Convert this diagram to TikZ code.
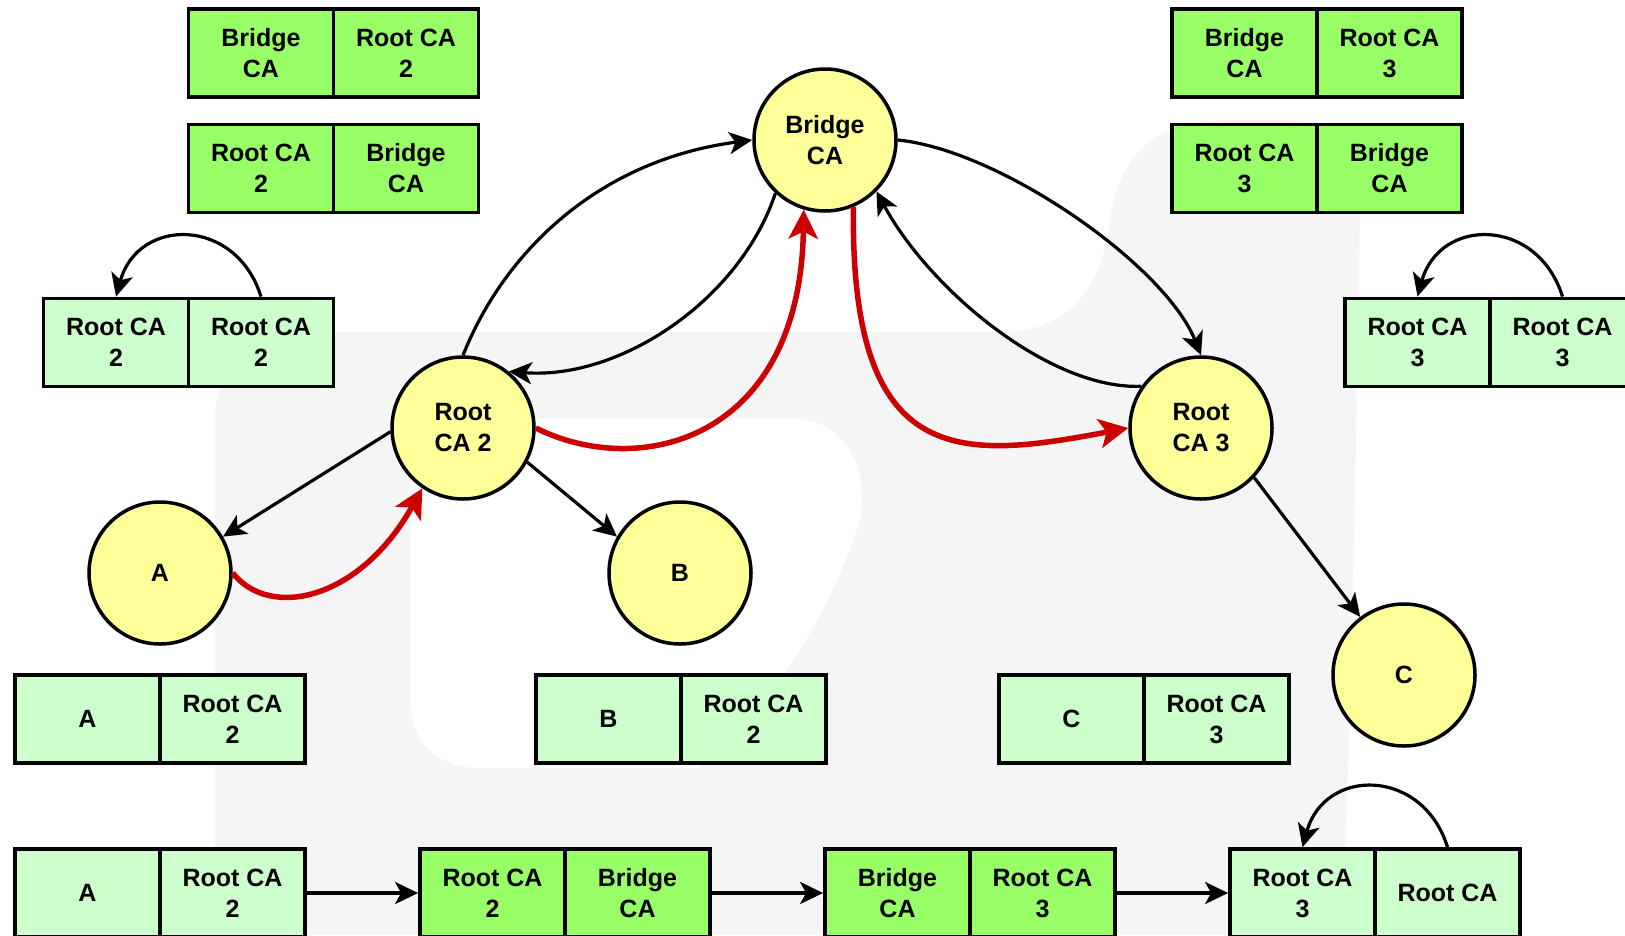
\documentclass[tikz,border=0pt]{standalone}
\usepackage{fontspec}
\setmainfont{Liberation Sans}
\usetikzlibrary{arrows.meta}
\definecolor{certdark}{HTML}{99FF66}
\definecolor{certlight}{HTML}{CCFFCC}
\definecolor{nodeyellow}{HTML}{FFFF99}
\definecolor{trustred}{HTML}{CC0000}
\definecolor{logogray}{HTML}{F5F5F5}
\tikzset{
  cell/.style={draw, line width=3.8pt, minimum width=145pt, minimum height=88pt,
    inner sep=0pt, align=center, font=\fontsize{25}{31}\selectfont\bfseries},
  darkcell/.style={cell, fill=certdark},
  lightcell/.style={cell, fill=certlight},
  ca/.style={circle, draw, line width=3.5pt, fill=nodeyellow, minimum size=142pt,
    inner sep=0pt, align=center, font=\fontsize{25}{31}\selectfont\bfseries},
  link/.style={line width=3.2pt, -{Stealth[length=23pt,width=22pt,inset=6pt]}},
  trust/.style={line width=5.5pt, draw=trustred,
    -{Stealth[length=29pt,width=29pt,inset=7pt]}},
}
\begin{document}
\begin{tikzpicture}[x=1pt,y=1pt]
\useasboundingbox (0,0) rectangle (1625,-935);

% faint logo in the background
\fill[logogray, even odd rule]
  (215,-935) -- (215,-420) .. controls (215,-360) and (260,-332) .. (340,-332)
  -- (1000,-332) .. controls (1060,-332) and (1100,-300) .. (1110,-220)
  .. controls (1120,-150) and (1160,-120) .. (1230,-120)
  -- (1280,-120) .. controls (1330,-120) and (1360,-160) .. (1360,-220)
  .. controls (1355,-500) and (1350,-800) .. (1340,-935) -- cycle
  (410,-480) .. controls (410,-440) and (440,-418) .. (490,-418)
  -- (790,-418) .. controls (840,-418) and (870,-460) .. (860,-520)
  .. controls (830,-620) and (760,-720) .. (700,-768)
  -- (480,-768) .. controls (435,-768) and (410,-740) .. (410,-700) -- cycle;

% certificate pairs, top left
\node[darkcell] (tla1) at (261,-53) {Bridge\\CA};
\node[darkcell] (tla2) at (406,-53) {Root CA\\2};
\node[darkcell] (tlb1) at (261,-168.5) {Root CA\\2};
\node[darkcell] (tlb2) at (406,-168.5) {Bridge\\CA};
\node[lightcell] (tlc1) at (116,-342.5) {Root CA\\2};
\node[lightcell] (tlc2) at (261,-342.5) {Root CA\\2};

% certificate pairs, top right
\node[darkcell] (tra1) at (1244.5,-53) {Bridge\\CA};
\node[darkcell] (tra2) at (1389.5,-53) {Root CA\\3};
\node[darkcell] (trb1) at (1244.5,-168.5) {Root CA\\3};
\node[darkcell] (trb2) at (1389.5,-168.5) {Bridge\\CA};
\node[lightcell] (trc1) at (1417.5,-342.5) {Root CA\\3};
\node[lightcell] (trc2) at (1562.5,-342.5) {Root CA\\3};

% end-entity certificates
\node[lightcell] (ma1) at (87.5,-719) {A};
\node[lightcell] (ma2) at (232.5,-719) {Root CA\\2};
\node[lightcell] (mb1) at (608.5,-719) {B};
\node[lightcell] (mb2) at (753.5,-719) {Root CA\\2};
\node[lightcell] (mc1) at (1071.5,-719) {C};
\node[lightcell] (mc2) at (1216.5,-719) {Root CA\\3};

% certification path
\node[lightcell] (pa1) at (87.5,-893) {A};
\node[lightcell] (pa2) at (232.5,-893) {Root CA\\2};
\node[darkcell] (pb1) at (492.5,-893) {Root CA\\2};
\node[darkcell] (pb2) at (637.5,-893) {Bridge\\CA};
\node[darkcell] (pc1) at (897.5,-893) {Bridge\\CA};
\node[darkcell] (pc2) at (1042.5,-893) {Root CA\\3};
\node[lightcell] (pd1) at (1302.5,-893) {Root CA\\3};
\node[lightcell] (pd2) at (1447.5,-893) {Root CA};

% authorities
\node[ca] (bca) at (825,-140) {Bridge\\CA};
\node[ca] (rca2) at (463,-428) {Root\\CA 2};
\node[ca] (rca3) at (1201,-428) {Root\\CA 3};
\node[ca] (na) at (160,-573) {A};
\node[ca] (nb) at (680,-573) {B};
\node[ca] (nc) at (1404,-675) {C};

% self-signed loops
\draw[link] (tlc2.north) .. controls +(-25,80) and +(22,80) .. (tlc1.north);
\draw[link] (trc2.north) .. controls +(-25,80) and +(22,80) .. (trc1.north);
\draw[link] (pd2.north) .. controls +(-25,80) and +(22,80) .. (pd1.north);

% path arrows
\draw[link] (pa2.east) -- (pb1.west);
\draw[link] (pb2.east) -- (pc1.west);
\draw[link] (pc2.east) -- (pd1.west);

% cross-certification
\draw[link] (rca2.north) .. controls (505,-250) and (600,-160) .. (bca.west);
\draw[link] (bca.227) .. controls (740,-300) and (620,-380) .. (rca2.51);
\draw[link] (bca.east) .. controls (1000,-150) and (1165,-265) .. (rca3.north);
\draw[link] (rca3.145) .. controls (1050,-390) and (930,-290) .. (bca.-45);

% issuing
\draw[link] (rca2.183) -- (na.30);
\draw[link] (rca2.-28) -- (nb.150);
\draw[link] (rca3.-43) -- (nc.127);

% trust path
\draw[trust] (na.east) .. controls (270,-620) and (360,-600) .. (rca2.236);
\draw[trust] (rca2.east) .. controls (640,-480) and (800,-440) .. (bca.253);
\draw[trust] (bca.-67) .. controls (850,-470) and (960,-460) .. (rca3.west);
\end{tikzpicture}
\end{document}
